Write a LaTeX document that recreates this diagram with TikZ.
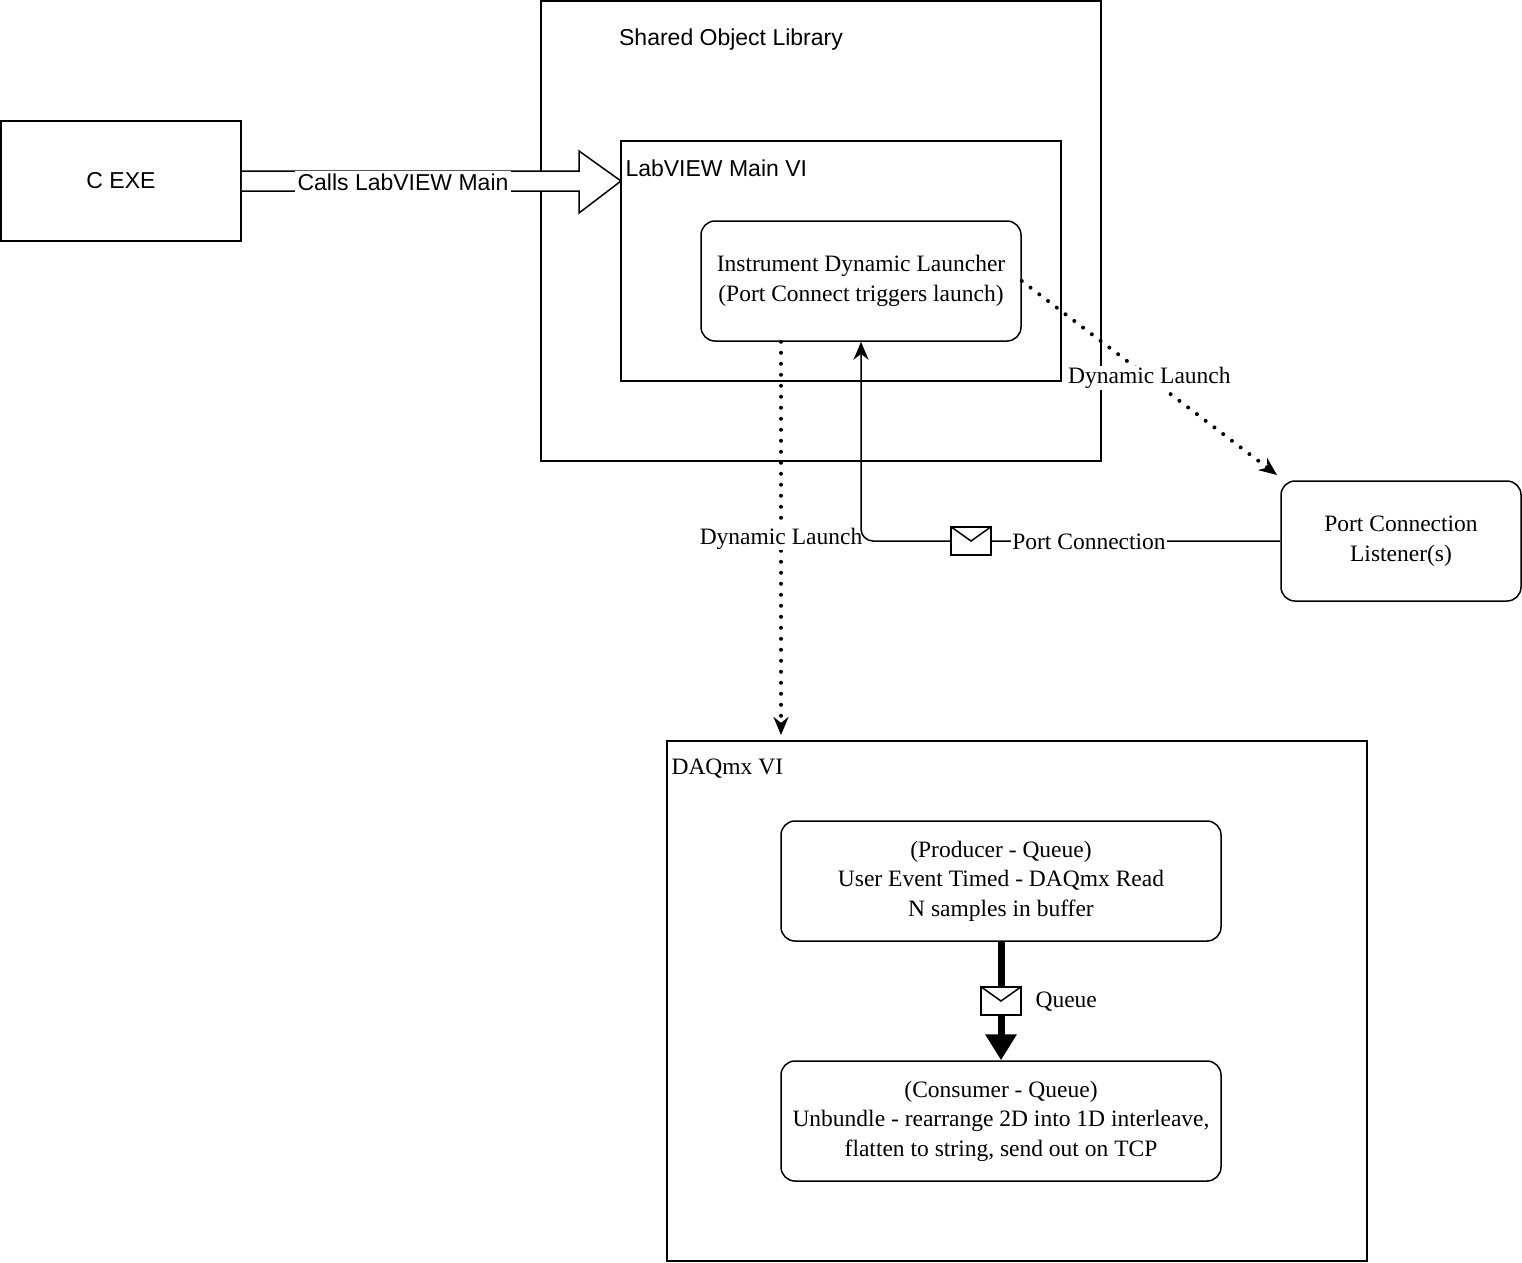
\documentclass[tikz,border=0pt]{standalone}
\usepackage{fontspec}
\setmainfont{Liberation Serif}
\newfontfamily\sansf{Liberation Sans}
\usetikzlibrary{positioning,arrows.meta,calc}
\tikzset{
  box/.style={draw, line width=1.5pt, inner sep=0pt},
  rbox/.style={draw, line width=1.5pt, rounded corners=14pt, align=center, inner sep=0pt},
  lbl/.style={fill=white, inner sep=3pt},
  sanslbl/.style={font=\sansf\fontsize{23}{28}\selectfont},
  env/.style={draw, line width=1.5pt, fill=white, minimum width=40pt, minimum height=28pt, inner sep=0pt},
  dots/.style={line width=4pt, dash pattern=on 0pt off 11pt, line cap=round, -{Stealth[length=18pt,width=15pt]}}
}
\begin{document}
\begin{tikzpicture}[x=1pt,y=-1pt, font=\fontsize{23.5}{29.5}\selectfont]
\useasboundingbox (0,0) rectangle (1522,1262);
% outer containers
\draw[box] (541,1) rectangle (1101,461);
\node[sanslbl] (sol) at (731,40) {Shared Object Library};
\draw[box] (621,141) rectangle (1061,381);
\node[anchor=west, sanslbl] (lvm) at (622,168) {LabVIEW Main VI};
\draw[box] (667,741) rectangle (1367,1261);
\node[anchor=west] (daq) at (668,769) {DAQmx VI};
% blocks
\node[box, minimum width=240pt, minimum height=120pt, sanslbl] (cexe) at (121,181) {C EXE};
\node[rbox, minimum width=320pt, minimum height=120pt] (idl) at (861,281) {Instrument Dynamic Launcher\\(Port Connect triggers launch)};
\node[rbox, minimum width=240pt, minimum height=120pt] (pcl) at (1401,541) {Port Connection\\Listener(s)};
\node[rbox, minimum width=440pt, minimum height=120pt] (prod) at (1001,881) {(Producer - Queue)\\User Event Timed - DAQmx Read\\N samples in buffer};
\node[rbox, minimum width=440pt, minimum height=120pt] (cons) at (1001,1121) {(Consumer - Queue)\\Unbundle - rearrange 2D into 1D interleave,\\flatten to string, send out on TCP};
% hollow arrow
\draw[line width=1.5pt, fill=white] (cexe.east |- 0,171) -- (579,171) -- (579,151) -- (621,181) -- (579,213) -- (579,191) -- (cexe.east |- 0,191);
\node[lbl, sanslbl] (calls) at (403,182) {Calls LabVIEW Main};
% dynamic launches
\coordinate (daqtop) at (781,735);
\draw[dots] (idl.south -| 781,0) -- (daqtop) node[lbl, pos=0.5, inner sep=1pt] {Dynamic Launch};
\coordinate (pcltip) at (1277,475);
\draw[dots] (idl.east) -- (pcltip) node[lbl, pos=0.5, inner sep=1pt] {Dynamic Launch};
% port connection
\draw[line width=1.5pt, rounded corners=12pt, -{Stealth[length=18pt,width=15pt]}] (pcl.west) -- (861,541) -- (idl.south);
\node[env] (env1) at (971,541) {};
\draw[line width=1.5pt] (env1.north west) -- (env1.center) -- (env1.north east);
\node[lbl, inner sep=1pt] (pc) at (1089,542) {Port Connection};
% queue
\draw[line width=7pt, -{Triangle[length=26pt,width=30pt]}] (prod.south) -- (cons.north);
\node[env] (env2) at (1001,1001) {};
\draw[line width=1.5pt] (env2.north west) -- (env2.center) -- (env2.north east);
\node[anchor=west] (q) at (1032,1002) {Queue};
\end{tikzpicture}
\end{document}
